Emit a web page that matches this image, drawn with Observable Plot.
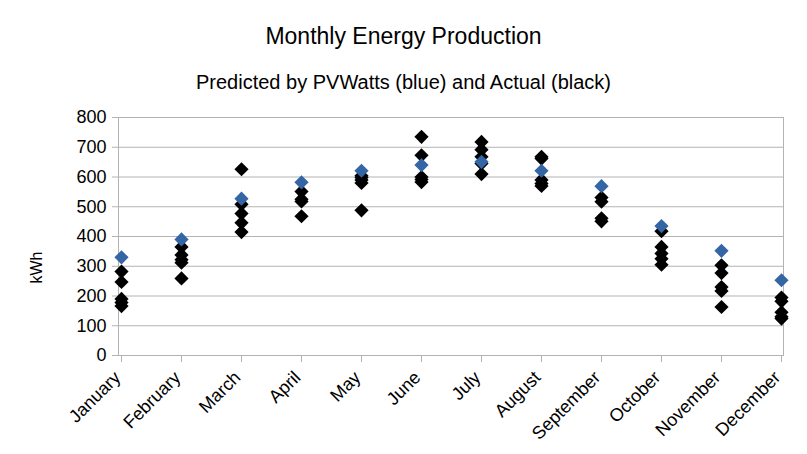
<!DOCTYPE html>
<html><head><meta charset="utf-8">
<script src="https://cdn.jsdelivr.net/npm/d3@7"></script>
<script src="https://cdn.jsdelivr.net/npm/@observablehq/plot@0.6"></script>
<style>
body{margin:0;background:#fff;font-family:"Liberation Sans",Arial,sans-serif;}
#wrap{width:807px;height:454px;overflow:hidden;}
h1{margin:0;padding-top:22px;font-size:23px;line-height:28px;font-weight:normal;text-align:center;color:#000;}
h2{margin:20px 0 0 0;font-size:20px;line-height:24px;font-weight:normal;text-align:center;color:#000;}
#chart svg{display:block;}
</style></head><body>
<div id="wrap">
<h1>Monthly Energy Production</h1>
<h2>Predicted by PVWatts (blue) and Actual (black)</h2>
<div id="chart"></div>
</div>
<script>
const months = ["January","February","March","April","May","June","July","August","September","October","November","December"];
const predicted = [330, 390, 527, 582, 621, 640, 651, 621, 569, 435, 352, 253];
const actualByMonth = [
  [282, 247, 190, 178, 166],
  [365, 338, 322, 312, 259],
  [626, 508, 477, 446, 415],
  [551, 525, 518, 468],
  [604, 598, 590, 580, 488],
  [735, 673, 600, 592, 583],
  [718, 692, 668, 645, 610],
  [668, 662, 590, 578, 570],
  [531, 517, 461, 451],
  [418, 365, 343, 325, 305],
  [303, 277, 230, 217, 163],
  [195, 182, 145, 130, 124]
];
const yTicks = [0, 100, 200, 300, 400, 500, 600, 700, 800];

const predRows = months.map((m, i) => ({month: m, kwh: predicted[i]}));
const actRows = months.flatMap((m, i) => actualByMonth[i].map(v => ({month: m, kwh: v})));

const grid = "#b3b3b3";
const chart = Plot.plot({
  width: 807,
  height: 360,
  marginTop: 23,
  marginBottom: 99,
  marginLeft: 118,
  marginRight: 24,
  style: {fontFamily: "'Liberation Sans', Arial, sans-serif", fontSize: "18px", color: "#000", background: "#fff"},
  x: {type: "point", domain: months, padding: 0},
  y: {domain: [0, 800]},
  marks: [
    Plot.gridY(yTicks, {stroke: grid, strokeOpacity: 1}),
    Plot.frame({stroke: grid}),
    Plot.axisY(yTicks, {tickSize: 6, tickPadding: 6, stroke: grid, fill: "#000", fontSize: 18, label: null}),
    Plot.axisX({tickSize: 7, text: null, stroke: grid, label: null}),
    Plot.axisX({tickSize: 0, tickPadding: 19, dx: -4, tickRotate: -45, fill: "#000", fontSize: 18, label: null}),
    Plot.text(["kWh"], {frameAnchor: "left", dx: -82, dy: 47, rotate: -90, fontSize: 16, fill: "#000"}),
    Plot.dot(actRows, {x: "month", y: "kwh", symbol: "diamond2", r: 6.4, fill: "#000", stroke: "none"}),
    Plot.dot(predRows, {x: "month", y: "kwh", symbol: "diamond2", r: 6.4, fill: "#3465a4", stroke: "none"})
  ]
});
document.getElementById("chart").appendChild(chart);
</script>
</body></html>
